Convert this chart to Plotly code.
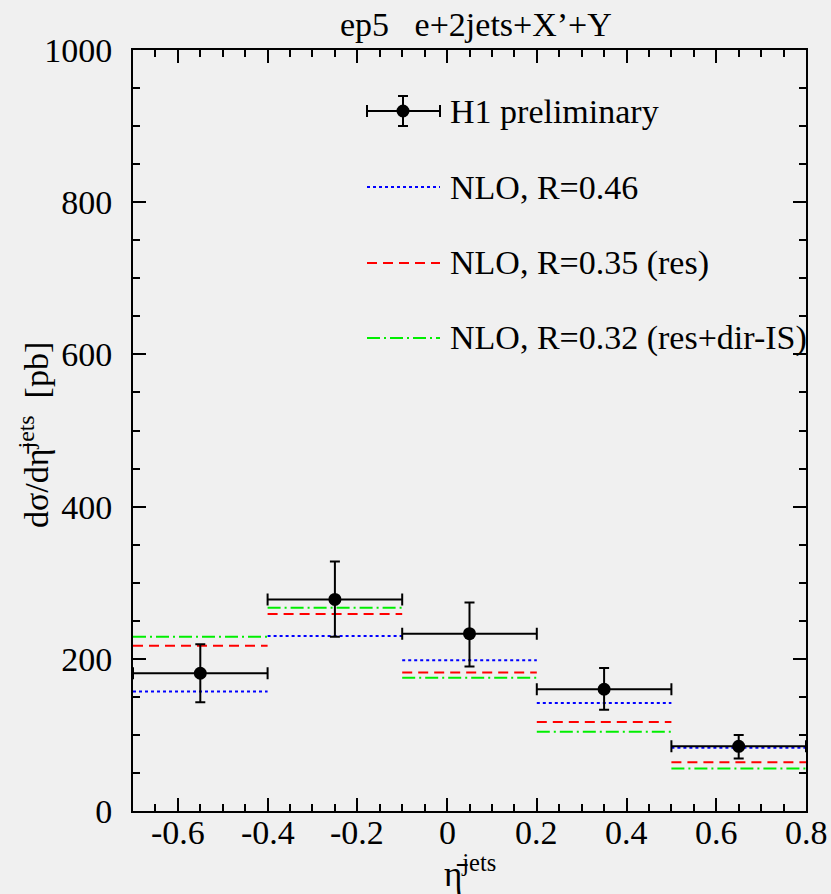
import plotly.graph_objects as go

# Bin edges in mean pseudorapidity of the two jets
bin_lo = [-0.7, -0.4, -0.1, 0.2, 0.5]
bin_hi = [-0.4, -0.1, 0.2, 0.5, 0.8]

# H1 preliminary data (pb) with total uncertainties
h1_xsec = [181, 278, 233, 160, 85]
h1_err_up = [38, 50, 41, 28, 15]
h1_err_dn = [38, 49, 43, 27, 16]

# NLO predictions with different rapidity-gap survival factors R
nlo_r046 = [157, 230, 198, 142, 83]
nlo_r035 = [217, 259, 182, 117, 64]
nlo_r032 = [229, 267, 175, 104, 56]

x_tick_vals = [-0.6, -0.4, -0.2, 0, 0.2, 0.4, 0.6, 0.8]
x_tick_text = ["-0.6", "-0.4", "-0.2", "0", "0.2", "0.4", "0.6", "0.8"]
y_tick_vals = [0, 200, 400, 600, 800, 1000]
y_tick_text = ["0", "200", "400", "600", "800", "1000"]

FONT = "'Liberation Serif', 'Times New Roman', 'DejaVu Serif', serif"
BG = "#f0f0f0"

centers = [(a + b) / 2 for a, b in zip(bin_lo, bin_hi)]
half_w = [(b - a) / 2 for a, b in zip(bin_lo, bin_hi)]


def step_xy(values):
    xs, ys = [], []
    for a, b, v in zip(bin_lo, bin_hi, values):
        xs += [a, b, None]
        ys += [v, v, None]
    return xs, ys


fig = go.Figure()

nlo_styles = [
    ("NLO, R=0.46", nlo_r046, "#0000ff", "3px,3px"),
    ("NLO, R=0.35 (res)", nlo_r035, "#ff0000", "10px,6px"),
    ("NLO, R=0.32 (res+dir-IS)", nlo_r032, "#00ee00", "13px,4px,2px,4px"),
]
for name, vals, col, dash in nlo_styles:
    xs, ys = step_xy(vals)
    fig.add_trace(go.Scatter(
        x=xs, y=ys, mode="lines", name=name,
        line=dict(color=col, width=2, dash=dash),
        showlegend=False, hoverinfo="skip"))

fig.add_trace(go.Scatter(
    x=centers, y=h1_xsec, mode="markers", name="H1 preliminary",
    marker=dict(color="black", size=13, symbol="circle"),
    error_x=dict(type="data", array=half_w, symmetric=True,
                 color="black", thickness=2, width=6),
    error_y=dict(type="data", array=h1_err_up, arrayminus=h1_err_dn,
                 symmetric=False, color="black", thickness=2, width=5),
    showlegend=False))

# Plot-area geometry in pixels, used to place the hand-drawn legend
L, R, T, B = 133, 25, 50, 83
W, H = 831, 894
pw, ph = W - L - R, H - T - B


def px(xp):
    return (xp - L) / pw


def py(yp):
    return (H - B - yp) / ph


shapes = []
annotations = []

# Legend: H1 data symbol
lx0, lx1, lxc = 367, 440, 403
ly = [111, 187, 263, 338]
shapes.append(dict(type="line", xref="paper", yref="paper",
                   x0=px(lx0), x1=px(lx1), y0=py(ly[0]), y1=py(ly[0]),
                   line=dict(color="black", width=2)))
for xe in (lx0, lx1):
    shapes.append(dict(type="line", xref="paper", yref="paper",
                       x0=px(xe), x1=px(xe), y0=py(ly[0] - 6), y1=py(ly[0] + 6),
                       line=dict(color="black", width=2)))
shapes.append(dict(type="line", xref="paper", yref="paper",
                   x0=px(lxc), x1=px(lxc), y0=py(ly[0] - 15), y1=py(ly[0] + 15),
                   line=dict(color="black", width=2)))
for ye in (ly[0] - 15, ly[0] + 15):
    shapes.append(dict(type="line", xref="paper", yref="paper",
                       x0=px(lxc - 5), x1=px(lxc + 5), y0=py(ye), y1=py(ye),
                       line=dict(color="black", width=2)))
shapes.append(dict(type="circle", xref="paper", yref="paper",
                   x0=px(lxc - 6.5), x1=px(lxc + 6.5),
                   y0=py(ly[0] + 6.5), y1=py(ly[0] - 6.5),
                   fillcolor="black", line=dict(color="black", width=0)))
annotations.append(dict(xref="paper", yref="paper", x=px(448), y=py(ly[0]),
                        text="H1 preliminary", showarrow=False,
                        xanchor="left", yanchor="middle",
                        font=dict(family=FONT, size=34, color="black")))

for (name, _, col, dash), yy in zip(nlo_styles, ly[1:]):
    shapes.append(dict(type="line", xref="paper", yref="paper",
                       x0=px(lx0), x1=px(lx1), y0=py(yy), y1=py(yy),
                       line=dict(color=col, width=2, dash=dash)))
    annotations.append(dict(xref="paper", yref="paper", x=px(448), y=py(yy),
                            text=name, showarrow=False,
                            xanchor="left", yanchor="middle",
                            font=dict(family=FONT, size=34, color="black")))

# x tick labels, placed close under the axis line
for v, t in zip(x_tick_vals, x_tick_text):
    annotations.append(dict(xref="x", yref="paper", x=v, y=py(832),
                            text=t, showarrow=False,
                            xanchor="center", yanchor="middle",
                            font=dict(family=FONT, size=34, color="black")))

# Title and axis titles
annotations.append(dict(xref="paper", yref="paper", x=px(476), y=py(24),
                        text="ep5   e+2jets+X\u2019+Y", showarrow=False,
                        xanchor="center", yanchor="middle",
                        font=dict(family=FONT, size=34, color="black")))
annotations.append(dict(xref="paper", yref="paper", x=px(34), y=py(435),
                        text="d\u03c3/d\u03b7\u0304<sup>jets</sup>  [pb]",
                        showarrow=False, textangle=-90,
                        xanchor="center", yanchor="middle",
                        font=dict(family=FONT, size=34, color="black")))
annotations.append(dict(xref="paper", yref="paper", x=px(470), y=py(871),
                        text="\u03b7\u0304<sup>jets</sup>", showarrow=False,
                        xanchor="center", yanchor="middle",
                        font=dict(family=FONT, size=35, color="black")))

axis_common = dict(
    showgrid=False, zeroline=False, showline=True, linecolor="black",
    linewidth=2, mirror="allticks", ticks="inside", tickcolor="black",
    tickwidth=2, ticklen=13, automargin=False,
    tickfont=dict(family=FONT, size=34, color="black"),
)

fig.update_layout(
    width=W, height=H,
    margin=dict(l=L, r=R, t=T, b=B, autoexpand=False),
    paper_bgcolor=BG, plot_bgcolor=BG,
    font=dict(family=FONT),
    showlegend=False,
    shapes=shapes, annotations=annotations,
    xaxis=dict(range=[-0.7, 0.8], tickvals=x_tick_vals, ticktext=x_tick_text,
               showticklabels=False,
               minor=dict(dtick=0.05, tick0=0, ticks="inside", ticklen=7,
                          tickwidth=1.5, tickcolor="black", showgrid=False),
               **axis_common),
    yaxis=dict(range=[0, 1000], tickvals=y_tick_vals, ticktext=y_tick_text,
               minor=dict(dtick=50, tick0=0, ticks="inside", ticklen=7,
                          tickwidth=1.5, tickcolor="black", showgrid=False),
               ticklabelstandoff=12, **axis_common),
)

fig.write_html("out.html")
